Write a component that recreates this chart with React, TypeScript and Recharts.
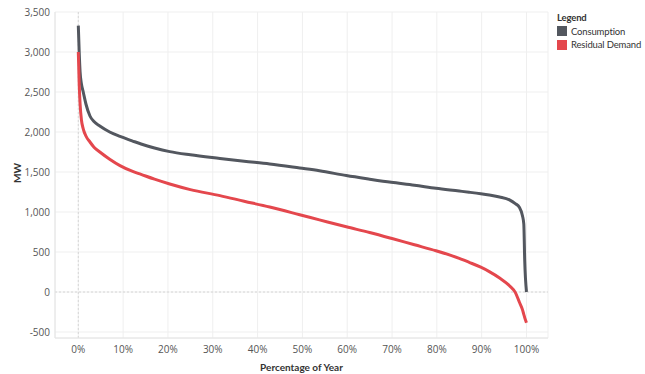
import {
  LineChart,
  Line,
  CartesianGrid,
  XAxis,
  YAxis,
  ReferenceLine,
} from "recharts";

// percentage of year (x) and MW values
const pct = [
  0, 0.2, 0.4, 0.7, 1.1, 1.7, 2.6, 3.5, 4.8, 7, 9.3, 12, 14, 17, 20.4, 25,
  31.6, 37, 42.7, 49.4, 53.8, 59.8, 65, 69.8, 75, 79.8, 85, 87.2, 89.8, 91.7,
  94, 96.2, 97.5, 98.4, 99.1, 99.4, 99.6, 100,
];
const consumption = [
  3330, 3000, 2750, 2600, 2500, 2350, 2200, 2130, 2075, 2000, 1945, 1890, 1850,
  1800, 1755, 1715, 1670, 1635, 1600, 1550, 1516, 1455, 1410, 1371, 1335, 1296,
  1262, 1247, 1228, 1212, 1188, 1152, 1105, 1060, 954, 850, 400, 0,
];
const residual = [
  3000, 2600, 2350, 2150, 2040, 1950, 1875, 1810, 1750, 1660, 1580, 1510, 1470,
  1410, 1350, 1280, 1205, 1135, 1062, 966, 902, 815, 743, 671, 590, 516, 420,
  371, 310, 255, 175, 79, -5, -125, -220, -280, -320, -385,
];
const xTicks = [0, 10, 20, 30, 40, 50, 60, 70, 80, 90, 100];
const yTicks = [-500, 0, 500, 1000, 1500, 2000, 2500, 3000, 3500];

const GRAY = "#53575f";
const RED = "#e4474d";
const TICK_FONT = "'Open Sans', sans-serif";
const FONT = "Lato, 'Open Sans', sans-serif";

const data = pct.map((p, i) => ({
  pct: p,
  consumption: consumption[i],
  residual: residual[i],
}));

const legendItems = [
  { name: "Consumption", color: GRAY },
  { name: "Residual Demand", color: RED },
];

function LegendBox() {
  return (
    <div
      style={{
        position: "absolute",
        left: 557,
        top: 11,
        fontFamily: FONT,
        fontSize: 9.5,
        letterSpacing: -0.15,
        color: "#333",
        lineHeight: "13.5px",
        whiteSpace: "nowrap",
      }}
    >
      <div style={{ fontWeight: 700 }}>Legend</div>
      {legendItems.map((it) => (
        <div key={it.name} style={{ display: "flex", alignItems: "center" }}>
          <span
            style={{
              display: "inline-block",
              width: 10,
              height: 10,
              background: it.color,
              marginRight: 4,
            }}
          />
          {it.name}
        </div>
      ))}
    </div>
  );
}

export default function App() {
  const tick = { fill: "#555", fontSize: 10, fontFamily: TICK_FONT };
  return (
    <div style={{ position: "absolute", left: 0, top: 0, width: 645, height: 374 }}>
      <LineChart
        width={645}
        height={374}
        data={data}
        margin={{ top: 12, right: 97, bottom: 6, left: 0 }}
      >
        <CartesianGrid stroke="#efefef" />
        <XAxis
          dataKey="pct"
          type="number"
          domain={[-5.2, 104.8]}
          ticks={xTicks}
          tickFormatter={(v) => `${v}%`}
          tick={tick}
          tickLine={false}
          axisLine={{ stroke: "#e4e4e4" }}
          height={30}
          label={{
            content: () => (
              <text
                x={301.5}
                y={367}
                textAnchor="middle"
                dominantBaseline="central"
                fontFamily={FONT}
                fontSize={10}
                fontWeight={700}
                fill="#333"
              >
                Percentage of Year
              </text>
            ),
          }}
        />
        <YAxis
          type="number"
          domain={[-575, 3500]}
          ticks={yTicks}
          tickFormatter={(v) => v.toLocaleString("en-US")}
          tick={tick}
          tickLine={false}
          tickSize={3}
          tickMargin={2}
          axisLine={{ stroke: "#e4e4e4" }}
          width={55}
          label={{
            content: () => (
              <text
                x={17}
                y={173}
                transform="rotate(-90 17 173)"
                textAnchor="middle"
                dominantBaseline="central"
                fontFamily={FONT}
                fontSize={10}
                fontWeight={700}
                fill="#333"
              >
                MW
              </text>
            ),
          }}
        />
        <ReferenceLine y={0} stroke="#d6d6d6" strokeDasharray="2 2" />
        <ReferenceLine x={0} stroke="#d6d6d6" strokeDasharray="2 2" />
        <Line
          type="monotone"
          dataKey="consumption"
          name="Consumption"
          stroke={GRAY}
          strokeWidth={3}
          dot={false}
          isAnimationActive={false}
        />
        <Line
          type="monotone"
          dataKey="residual"
          name="Residual Demand"
          stroke={RED}
          strokeWidth={3}
          dot={false}
          isAnimationActive={false}
        />
      </LineChart>
      <LegendBox />
    </div>
  );
}
